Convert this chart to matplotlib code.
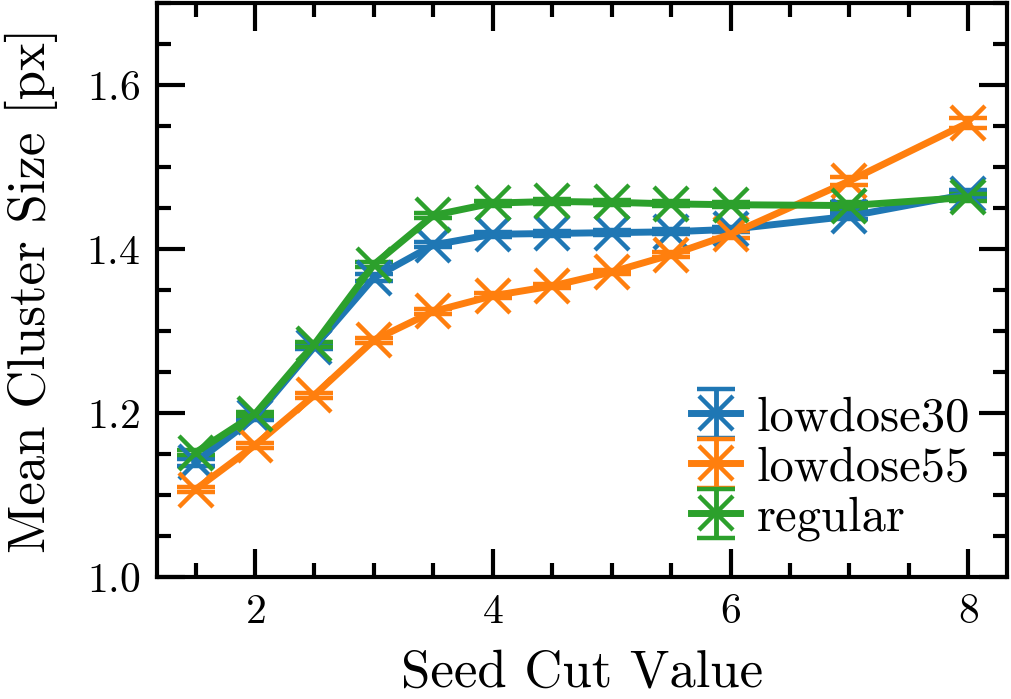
import matplotlib
matplotlib.use("Agg")
import matplotlib.pyplot as plt
from matplotlib.ticker import MultipleLocator

plt.rcParams['font.family'] = 'serif'
plt.rcParams['font.serif'] = ['cmr10']
plt.rcParams['mathtext.fontset'] = 'cm'
plt.rcParams['axes.unicode_minus'] = False
plt.rcParams['axes.formatter.use_mathtext'] = True

seed_cut = [1.5, 2.0, 2.5, 3.0, 3.5, 4.0, 4.5, 5.0, 5.5, 6.0, 7.0, 8.0]

lowdose30 = [1.140, 1.195, 1.281, 1.365, 1.405, 1.418, 1.419, 1.420, 1.421, 1.424, 1.440, 1.467]
lowdose30_err = [0.004, 0.003, 0.003, 0.004, 0.003, 0.003, 0.003, 0.003, 0.003, 0.003, 0.004, 0.005]

lowdose55 = [1.107, 1.161, 1.222, 1.289, 1.324, 1.343, 1.355, 1.372, 1.393, 1.418, 1.483, 1.554]
lowdose55_err = [0.003, 0.003, 0.003, 0.003, 0.003, 0.003, 0.003, 0.003, 0.003, 0.004, 0.005, 0.006]

regular = [1.152, 1.199, 1.284, 1.381, 1.441, 1.456, 1.458, 1.457, 1.455, 1.454, 1.453, 1.463]
regular_err = [0.003, 0.003, 0.003, 0.003, 0.003, 0.003, 0.003, 0.003, 0.003, 0.003, 0.004, 0.004]

series = [
    ("lowdose30", lowdose30, lowdose30_err, "#1f77b4"),
    ("lowdose55", lowdose55, lowdose55_err, "#ff7f0e"),
    ("regular", regular, regular_err, "#2ca02c"),
]

fig = plt.figure(figsize=(10.12, 6.99), dpi=100)
ax = fig.add_axes([0.155, 0.174, 0.84, 0.822])

for name, vals, errs, col in series:
    ax.errorbar(seed_cut, vals, yerr=errs, color=col, marker='x', markersize=24,
                markeredgewidth=3.2, linewidth=5, elinewidth=3.5, capsize=14,
                capthick=3.5, label=name)

ax.set_ylim(1.0, 1.7)
ax.xaxis.set_major_locator(MultipleLocator(2))
ax.xaxis.set_minor_locator(MultipleLocator(0.5))
ax.yaxis.set_major_locator(MultipleLocator(0.2))
ax.yaxis.set_minor_locator(MultipleLocator(0.05))
ax.tick_params(which='both', direction='in', top=True, right=True, width=3)
ax.tick_params(which='major', length=20, labelsize=30, pad=12)
ax.tick_params(which='minor', length=10)
for s in ax.spines.values():
    s.set_linewidth(3)

ax.set_xlabel("Seed Cut Value", fontsize=38, labelpad=13)
ax.set_ylabel("Mean Cluster Size [px]", fontsize=38, labelpad=20)

ax.legend(loc='lower right', frameon=False, fontsize=35, handlelength=1.0,
          handletextpad=0.35, borderaxespad=0.45, borderpad=0.3, labelspacing=0.12)

fig.savefig("out.png", dpi=100)
